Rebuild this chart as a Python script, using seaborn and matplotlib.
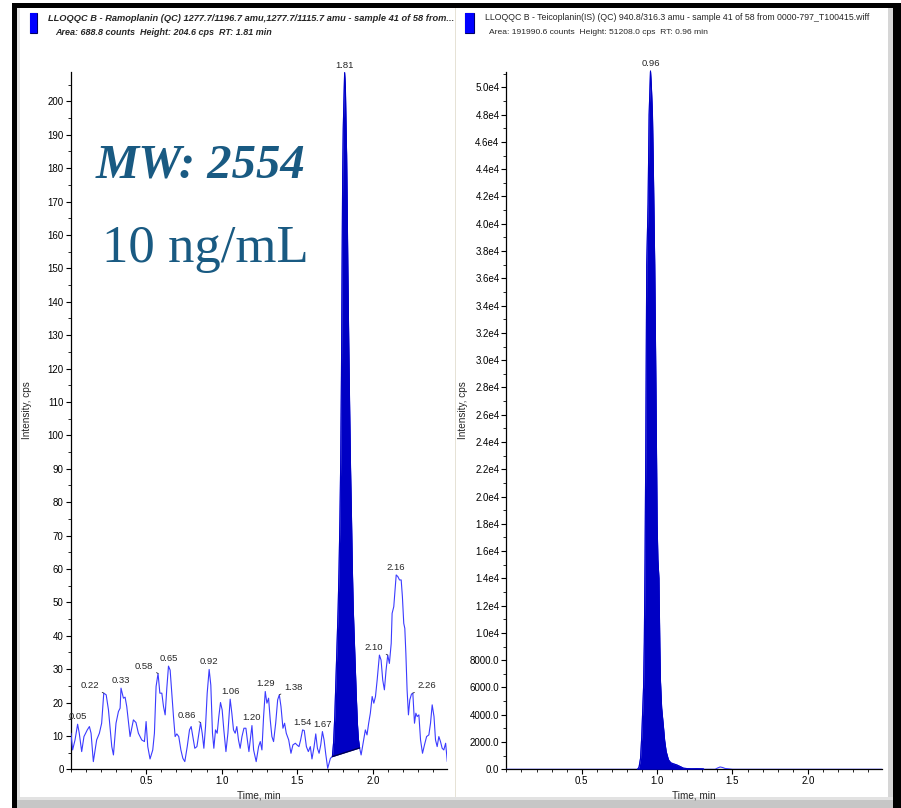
import numpy as np
import matplotlib
matplotlib.use("Agg")
import matplotlib.pyplot as plt
import seaborn as sns
from matplotlib.patches import Rectangle
from matplotlib.ticker import MultipleLocator, FixedLocator, FuncFormatter

# ---------------- data ----------------
# Ramoplanin XIC (time in min, intensity in cps)
ramo_time = [
    0.003, 0.014, 0.030, 0.047, 0.058, 0.074, 0.089, 0.111, 0.125, 0.136,
    0.151, 0.173, 0.191, 0.206, 0.220, 0.236, 0.251, 0.273, 0.284, 0.301,
    0.317, 0.328, 0.334, 0.350, 0.361, 0.372, 0.394, 0.416, 0.433, 0.449,
    0.471, 0.489, 0.500, 0.511, 0.526, 0.544, 0.555, 0.566, 0.579, 0.591,
    0.604, 0.615, 0.626, 0.637, 0.648, 0.659, 0.670, 0.681, 0.692, 0.703,
    0.716, 0.730, 0.743, 0.756, 0.772, 0.787, 0.798, 0.809, 0.822, 0.836,
    0.849, 0.860, 0.871, 0.882, 0.893, 0.904, 0.917, 0.928, 0.939, 0.948,
    0.959, 0.970, 0.981, 0.992, 1.003, 1.014, 1.028, 1.041, 1.056, 1.067,
    1.078, 1.089, 1.100, 1.111, 1.122, 1.134, 1.147, 1.160, 1.171, 1.180,
    1.189, 1.200, 1.211, 1.228, 1.244, 1.255, 1.266, 1.277, 1.288, 1.299,
    1.310, 1.321, 1.332, 1.343, 1.357, 1.370, 1.381, 1.392, 1.405, 1.416,
    1.427, 1.443, 1.458, 1.471, 1.487, 1.498, 1.511, 1.522, 1.535, 1.546,
    1.560, 1.573, 1.586, 1.597, 1.611, 1.622, 1.633, 1.644, 1.655, 1.666,
    1.677, 1.688, 1.701, 1.719,
    1.732, 1.740, 1.748, 1.755, 1.762, 1.770, 1.776, 1.782, 1.787, 1.792,
    1.796, 1.800, 1.804, 1.808, 1.813, 1.818, 1.822, 1.826, 1.830, 1.834,
    1.840, 1.846, 1.852, 1.858, 1.864, 1.870, 1.876, 1.883, 1.890, 1.897,
    1.904, 1.912,
    1.922, 1.939, 1.950, 1.961, 1.972, 1.983, 1.995, 2.006, 2.017, 2.028,
    2.043, 2.054, 2.065, 2.076, 2.087, 2.098, 2.109, 2.121, 2.127, 2.138,
    2.154, 2.165, 2.176, 2.187, 2.195, 2.204, 2.211, 2.218, 2.226, 2.235,
    2.244, 2.255, 2.264, 2.275, 2.284, 2.293, 2.304, 2.315, 2.328, 2.341,
    2.355, 2.370, 2.381, 2.392, 2.404, 2.414, 2.425, 2.436, 2.447, 2.458,
    2.469, 2.481, 2.492,
]
ramo_cps = [
    10.8, 5.8, 8.8, 13.5, 10.8, 5.3, 9.8, 11.8, 12.8, 10.8,
    2.3, 8.8, 10.8, 13.8, 22.8, 22.3, 17.8, 6.8, 4.3, 13.8,
    17.3, 18.3, 24.3, 21.3, 21.6, 18.8, 9.8, 14.8, 14.0, 10.8,
    8.8, 8.3, 14.3, 6.8, 3.1, 5.8, 10.8, 24.8, 28.7, 22.8,
    22.8, 18.8, 16.3, 24.3, 30.9, 29.7, 22.8, 15.8, 9.8, 10.6,
    9.8, 5.8, 3.3, 2.3, 6.8, 11.8, 12.8, 9.8, 6.3, 6.8,
    10.8, 14.0, 10.8, 6.3, 12.8, 22.8, 29.9, 25.2, 10.8, 6.3,
    11.8, 10.8, 15.8, 20.0, 17.8, 11.8, 5.3, 10.8, 21.0, 16.8,
    11.8, 10.8, 12.8, 8.8, 6.3, 9.8, 12.3, 12.3, 8.3, 5.3,
    8.8, 13.1, 5.8, 2.3, 6.8, 8.3, 5.8, 15.8, 23.3, 19.8,
    21.3, 14.8, 9.8, 8.3, 13.8, 20.8, 22.3, 18.8, 12.3, 13.8,
    10.8, 8.8, 4.8, 7.3, 7.8, 7.3, 6.8, 8.8, 11.8, 11.6,
    6.8, 5.3, 6.8, 3.1, 6.8, 10.6, 6.3, 4.8, 7.3, 11.3,
    8.8, 4.6, 0.3, 3.3,
    3.8, 8.0, 16.0, 26.0, 36.0, 48.0, 60.0, 75.0, 92.0, 118.0,
    150.0, 178.0, 192.0, 200.0, 208.6, 204.0, 193.0, 184.0, 168.0, 150.0,
    128.0, 108.0, 90.0, 76.0, 60.0, 48.0, 40.0, 31.0, 22.0, 14.0,
    9.0, 6.4,
    4.3, 8.8, 11.8, 10.3, 13.8, 16.8, 21.8, 19.8, 21.8, 26.7,
    34.2, 32.7, 26.7, 23.8, 29.7, 34.2, 31.7, 37.7, 46.7, 48.7,
    58.2, 57.7, 56.7, 56.7, 51.7, 43.7, 42.2, 34.7, 23.8, 16.3,
    20.8, 22.5, 22.8, 13.8, 16.8, 15.8, 16.3, 8.8, 4.8, 7.3,
    9.8, 10.3, 13.8, 19.3, 15.8, 8.8, 6.8, 9.8, 8.3, 6.3,
    5.8, 7.8, 2.3,
]
ramo_peak_window = (1.732, 1.912)
ramo_labels = [0.05, 0.22, 0.33, 0.58, 0.65, 0.86, 0.92, 1.06, 1.20,
               1.29, 1.38, 1.54, 1.67, 1.81, 2.10, 2.16, 2.26]
ramo_label_side = ["up", "left", "up", "left", "up", "left", "up", "up", "up",
                   "up", "right", "up", "up", "up", "left", "up", "right"]

# Teicoplanin (internal standard) XIC
teico_time = [
    0.000, 0.870, 0.880, 0.890, 0.898, 0.905, 0.910, 0.915, 0.920, 0.925,
    0.931, 0.940, 0.947, 0.956, 0.962, 0.969, 0.975, 0.984, 0.992, 1.000,
    1.005, 1.012, 1.018, 1.022, 1.030, 1.042, 1.050, 1.060, 1.075, 1.090,
    1.108, 1.130, 1.153, 1.175, 1.200, 1.230, 1.260, 1.290, 1.307, 1.310,
    1.385, 1.400, 1.418, 1.435, 1.451, 1.470, 1.500, 2.490,
]
teico_cps = [
    0, 0, 150, 800, 2400, 4500, 6000, 9300, 15400, 24000,
    37000, 41500, 48000, 51208, 50000, 48000, 44000, 37000, 28000, 18000,
    15400, 14000, 9000, 6500, 4500, 3100, 2100, 1300, 700, 480,
    400, 320, 200, 80, 50, 40, 45, 40, 30, 0,
    0, 90, 170, 130, 60, 40, 0, 0,
]
teico_peak_window = (0.870, 1.310)
teico_labels = [0.96]

left_header = ("LLOQQC B - Ramoplanin (QC) 1277.7/1196.7 amu,1277.7/1115.7 amu"
               " - sample 41 of 58 from...")
left_sub = "Area: 688.8 counts  Height: 204.6 cps  RT: 1.81 min"
right_header = ("LLOQQC B - Teicoplanin(IS) (QC) 940.8/316.3 amu - sample 41 of 58"
                " from 0000-797_T100415.wiff")
right_sub = "Area: 191990.6 counts  Height: 51208.0 cps  RT: 0.96 min"

# ---------------- style ----------------
sns.set_style("ticks")
SANS = ["Liberation Sans Narrow", "Liberation Sans", "DejaVu Sans"]
plt.rcParams["font.family"] = SANS

W, H = 901, 808
TRACE = "#3b3bff"
FILL = "#0000c4"
SERIF_BLUE = "#195a82"

fig = plt.figure(figsize=(W / 100, H / 100), dpi=100, facecolor="white")


def fbox(x0, y0, x1, y1):
    return [x0 / W, 1 - y1 / H, (x1 - x0) / W, (y1 - y0) / H]


def frect(x0, y0, x1, y1, color, z=0):
    fig.add_artist(Rectangle((x0 / W, 1 - y1 / H), (x1 - x0) / W, (y1 - y0) / H,
                             transform=fig.transFigure, facecolor=color,
                             edgecolor="none", zorder=z))


# window frame
frect(12, 3, 901, 7.5, "black")
frect(12, 3, 17, 808, "black")
frect(893, 3, 901, 808, "black")
frect(17, 7.5, 20, 800, "#e4e4e4")
frect(888, 7.5, 893, 800, "#d6d6d6")
frect(17, 797, 893, 800, "#e2e2e2")
frect(17, 800, 893, 808, "#c6c6c6")
frect(454.5, 7.5, 456, 797, "#e6e2d6")

ax_l = fig.add_axes(fbox(70.5, 72, 447, 769.3))
ax_r = fig.add_axes(fbox(506.4, 71.7, 881.7, 769.3))


def style_axes(ax, ymax, ymajor, yminor, yfmt):
    ax.set_facecolor("none")
    ax.set_xlim(0, 2.49)
    ax.set_ylim(0, ymax)
    for s in ("top", "right"):
        ax.spines[s].set_visible(False)
    for s in ("left", "bottom"):
        ax.spines[s].set_linewidth(0.9)
        ax.spines[s].set_color("black")
    ax.xaxis.set_major_locator(FixedLocator([0.5, 1.0, 1.5, 2.0]))
    ax.xaxis.set_minor_locator(MultipleLocator(0.1))
    ax.xaxis.set_major_formatter(FuncFormatter(lambda v, p: f"{v:.1f}"))
    ax.yaxis.set_major_locator(MultipleLocator(ymajor))
    ax.yaxis.set_minor_locator(MultipleLocator(yminor))
    ax.yaxis.set_major_formatter(FuncFormatter(yfmt))
    ax.tick_params(which="major", direction="out", length=3.5, width=0.8,
                   labelsize=7, pad=1.5, colors="black")
    ax.tick_params(which="minor", direction="out", length=2, width=0.7)
    ax.set_xlabel("Time, min", fontsize=7.2)
    ax.set_ylabel("Intensity, cps", fontsize=7.2)
    ax.xaxis.set_label_coords(0.5, -0.030)
    ax.yaxis.set_label_coords(-0.102, 0.515)


style_axes(ax_l, 208.8, 10, 5, lambda v, p: f"{v:.0f}")
style_axes(ax_r, 51150, 2000, 1000,
           lambda v, p: f"{v / 1e4:.1f}e4" if v >= 1e4 else f"{v:.1f}")


def draw_trace(ax, t, y, window, line_color, fill_color, slanted_base):
    t = np.asarray(t, float)
    y = np.asarray(y, float)
    sns.lineplot(x=t, y=y, ax=ax, color=line_color, linewidth=0.8,
                 estimator=None, sort=False, zorder=3)
    m = (t >= window[0]) & (t <= window[1])
    if slanted_base:
        base = np.interp(t[m], [t[m][0], t[m][-1]], [y[m][0], y[m][-1]])
    else:
        base = np.zeros(m.sum())
    ax.fill_between(t[m], base, y[m], color=fill_color, linewidth=0,
                    zorder=4, clip_on=False)
    ax.plot(t[m], y[m], color=fill_color, linewidth=0.8, zorder=5,
            clip_on=False)
    if slanted_base:
        ax.plot([t[m][0], t[m][-1]], [y[m][0], y[m][-1]], color="#00004a",
                linewidth=0.9, zorder=6)
    return t, y


def peak_labels(ax, t, y, times, sides, fs=6.8):
    for lt, side in zip(times, sides):
        near = np.abs(t - lt) <= 0.012
        yy = y[near].max()
        xx = t[near][np.argmax(y[near])]
        if side == "up":
            ax.annotate(f"{lt:.2f}", xy=(xx, yy), xytext=(0, 2.2),
                        textcoords="offset points", ha="center", va="bottom",
                        fontsize=fs, family="Liberation Sans",
                        annotation_clip=False, zorder=7)
        else:
            sgn = -1 if side == "left" else 1
            ax.annotate(f"{lt:.2f}", xy=(xx, yy), xytext=(sgn * 3.5, 2.0),
                        textcoords="offset points",
                        ha="right" if side == "left" else "left", va="bottom",
                        fontsize=fs, family="Liberation Sans",
                        annotation_clip=False, zorder=7,
                        arrowprops=dict(arrowstyle="-", color="#333333",
                                        lw=0.6, shrinkA=0, shrinkB=0))


t_l, y_l = draw_trace(ax_l, ramo_time, ramo_cps, ramo_peak_window,
                      TRACE, FILL, True)
peak_labels(ax_l, t_l, y_l, ramo_labels, ramo_label_side)

t_r, y_r = draw_trace(ax_r, teico_time, teico_cps, teico_peak_window,
                      TRACE, FILL, False)
peak_labels(ax_r, t_r, y_r, teico_labels, ["up"])

# compound / level annotation
fig.text(201 / W, 1 - 177 / H, "MW: 2554", ha="center", va="baseline",
         family="Liberation Serif", style="italic", weight="bold",
         fontsize=35, color=SERIF_BLUE)
fig.text(205 / W, 1 - 262 / H, "10 ng/mL", ha="center", va="baseline",
         family="Liberation Serif", fontsize=38, color=SERIF_BLUE)

# trace headers with colour keys
for x0, w in ((30, 7), (465, 9)):
    frect(x0, 13, x0 + w, 33, "#0000ff", z=2)
    fig.add_artist(Rectangle((x0 / W, 1 - 33 / H), w / W, 20 / H,
                             transform=fig.transFigure, facecolor="none",
                             edgecolor="#000066", lw=0.8))

renderer = fig.canvas.get_renderer()


def header_text(x, y, s, width_px, **kw):
    """Place a header line and size it to span width_px pixels."""
    txt = fig.text(x / W, 1 - y / H, s, ha="left", va="center",
                   fontsize=7, **kw)
    w = txt.get_window_extent(renderer).width
    txt.set_fontsize(7 * width_px / w)
    return txt


header_text(48, 18.5, left_header, 407, style="italic", weight="bold")
header_text(55, 32.5, left_sub, 217, style="italic", weight="bold")
header_text(485, 17.5, right_header, 385)
header_text(489, 32, right_sub, 217)

fig.savefig("out.png", dpi=100, facecolor="white")
